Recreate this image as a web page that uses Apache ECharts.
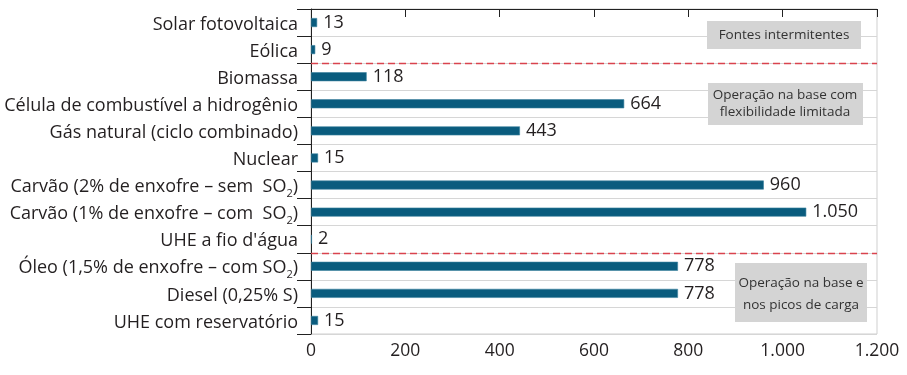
<!DOCTYPE html>
<html>
<head>
<meta charset="utf-8">
<script src="https://cdn.jsdelivr.net/npm/echarts@6/dist/echarts.min.js"></script>
<style>
  html, body { margin: 0; padding: 0; background: #fff; }
  #chart { width: 907px; height: 375px; }
</style>
</head>
<body>
<div id="chart"></div>
<script>
// Fontes de geração e os valores de cada uma
const categories = [
  'Solar fotovoltaica',
  'Eólica',
  'Biomassa',
  'Célula de combustível a hidrogênio',
  'Gás natural (ciclo combinado)',
  'Nuclear',
  'Carvão (2% de enxofre – sem  SO2)',
  'Carvão (1% de enxofre – com  SO2)',
  "UHE a fio d'água",
  'Óleo (1,5% de enxofre – com SO2)',
  'Diesel (0,25% S)',
  'UHE com reservatório'
];
const values = [13, 9, 118, 664, 443, 15, 960, 1050, 2, 778, 778, 15];
const xTicks = [0, 200, 400, 600, 800, 1000, 1200];

// Limites entre grupos (em unidades de categoria, contados do topo)
const groupBoundaries = [2, 9];
const groupLabels = [
  'Fontes intermitentes',
  'Operação na base com\nflexibilidade limitada',
  'Operação na base e\nnos picos de carga'
];

const FONT = '"Open Sans", "Noto Sans", sans-serif';
const TEXT = '#231f20';
const RED = '#d9434e';

function fmtThousands(v) {
  return String(v).replace(/\B(?=(\d{3})+(?!\d))/g, '.');
}

function catLabel(name) {
  const i = name.indexOf('SO2');
  if (i < 0) return '{t|' + name + '}';
  return '{t|' + name.slice(0, i + 2) + '}{sub|2}{t|' + name.slice(i + 3) + '}';
}

const chart = echarts.init(document.getElementById('chart'), null, { renderer: 'canvas' });

const boxStyle = { fill: '#d4d4d4' };
const boxText = { fill: '#333', font: '13.5px ' + FONT, textAlign: 'center', textVerticalAlign: 'middle' };

chart.setOption({
  animation: false,
  textStyle: { fontFamily: FONT },
  grid: { left: 311, right: 30, top: 9, bottom: 41, show: true, borderColor: '#cfcfcf', borderWidth: 1 },
  xAxis: {
    type: 'value',
    min: 0, max: 1200, interval: 200,
    axisLine: { show: true, lineStyle: { color: '#222', width: 1 } },
    axisTick: { show: true, length: 8, lineStyle: { color: '#222' } },
    splitLine: { show: false },
    axisLabel: {
      color: TEXT, fontSize: 17.5, fontFamily: FONT, margin: 8,
      formatter: v => xTicks.includes(v) ? fmtThousands(v) : ''
    }
  },
  yAxis: [
    {
      type: 'category',
      data: categories,
      inverse: true,
      axisLine: { show: true, lineStyle: { color: '#222', width: 1 } },
      axisTick: { show: true, length: 14, alignWithLabel: false, lineStyle: { color: '#222' } },
      splitLine: { show: true, lineStyle: { color: '#d6d6d6', width: 1 } },
      axisLabel: {
        margin: 13,
        formatter: catLabel,
        rich: {
          t: { fontSize: 18, color: TEXT, fontFamily: FONT, lineHeight: 22, verticalAlign: 'bottom' },
          sub: { fontSize: 11, color: TEXT, fontFamily: FONT, lineHeight: 11, verticalAlign: 'bottom', padding: [0, 0, -3, 0] }
        }
      }
    },
    {
      type: 'value',
      min: 0, max: categories.length,
      inverse: true,
      show: false
    }
  ],
  series: [
    {
      type: 'bar',
      data: values,
      barWidth: 9,
      itemStyle: { color: '#0a5c7e', borderColor: '#3d83a0', borderWidth: 0.6 },
      label: {
        show: true, position: 'right', distance: 6,
        color: TEXT, fontSize: 18, fontFamily: FONT,
        formatter: p => fmtThousands(p.value)
      }
    },
    {
      // linhas tracejadas que separam os grupos de operação
      type: 'line',
      yAxisIndex: 1,
      data: [],
      color: RED,
      itemStyle: { color: RED },
      lineStyle: { color: RED },
      markLine: {
        silent: true,
        symbol: ['none', 'none'],
        label: { show: false },
        lineStyle: { color: RED, type: [7, 4], width: 1.3, opacity: 1 },
        emphasis: { disabled: true },
        data: groupBoundaries.map(b => ({ yAxis: b, lineStyle: { color: RED } }))
      }
    }
  ],
  graphic: [
    { type: 'rect', z: 10, shape: { x: 707, y: 21, width: 154, height: 28 }, style: boxStyle },
    { type: 'text', z: 11, x: 784, y: 35, style: Object.assign({ text: groupLabels[0] }, boxText) },
    { type: 'rect', z: 10, shape: { x: 708, y: 83, width: 155, height: 42 }, style: boxStyle },
    { type: 'text', z: 11, x: 785, y: 104, style: Object.assign({ text: groupLabels[1], lineHeight: 17 }, boxText) },
    { type: 'rect', z: 10, shape: { x: 735, y: 263, width: 132, height: 59 }, style: boxStyle },
    { type: 'text', z: 11, x: 801, y: 294, style: Object.assign({ text: groupLabels[2], lineHeight: 22 }, boxText) }
  ]
});
</script>
</body>
</html>
